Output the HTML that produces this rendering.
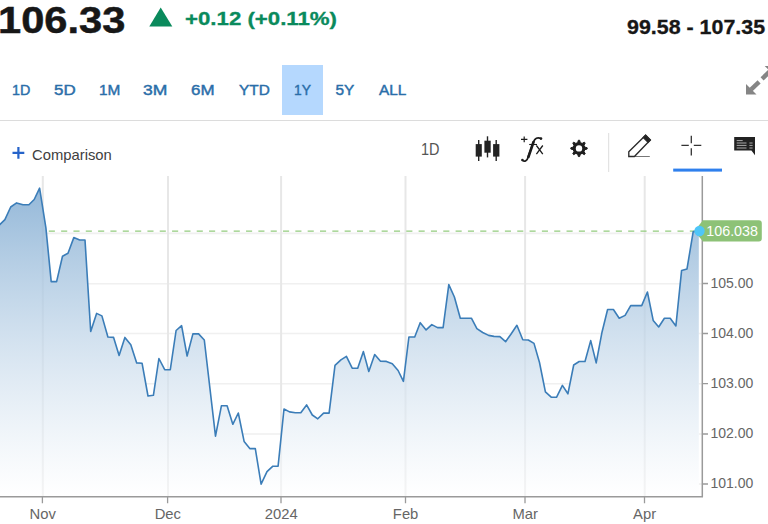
<!DOCTYPE html>
<html><head><meta charset="utf-8">
<style>
html,body{margin:0;padding:0;background:#fff;}
body{width:768px;height:524px;position:relative;overflow:hidden;font-family:"Liberation Sans",sans-serif;}
.abs{position:absolute;white-space:nowrap;line-height:1;}
#price{left:-2px;top:2.3px;font-size:37px;font-weight:bold;color:#171717;-webkit-text-stroke:0.5px #171717;transform-origin:0 0;transform:scaleX(1.125);}
#chg{left:184.5px;top:10.3px;font-size:18px;font-weight:bold;color:#0a8a5c;-webkit-text-stroke:0.3px #0a8a5c;transform-origin:0 0;transform:scaleX(1.235);}
#range{left:626.5px;top:18.3px;font-size:19.5px;font-weight:bold;color:#171717;-webkit-text-stroke:0.3px #171717;transform-origin:0 0;transform:scaleX(1.098);}
.tab{top:82.3px;font-size:15.4px;transform-origin:0 0;color:#2a6ea9;font-weight:normal;-webkit-text-stroke:0.45px #2a6ea9;}
#sel{left:282px;top:65px;width:40.5px;height:49.5px;background:#b5d8fe;}
#hr{left:0;top:120px;width:768px;height:1px;background:#dcdcdc;}
#cmp{left:32px;top:147.8px;font-size:14.8px;color:#404040;}
#t1d{left:421px;top:142.3px;font-size:15.6px;color:#555;transform-origin:0 0;transform:scaleX(0.93);}
.ax{font-size:14px;color:#666;}
.mon{top:506.6px;font-size:14.8px;color:#666;}
</style></head><body>
<div class="abs" id="price">106.33</div>
<svg class="abs" style="left:149px;top:7px" width="24" height="20" viewBox="0 0 24 20"><polygon points="11.7,0.5 23.3,19.5 0.3,19.5" fill="#0a8a5c"/></svg>
<div class="abs" id="chg">+0.12 (+0.11%)</div>
<div class="abs" id="range">99.58 - 107.35</div>

<div class="abs" id="sel"></div>
<div class="abs tab" style="left:12.3px;transform:scaleX(0.93)">1D</div>
<div class="abs tab" style="left:54.3px;transform:scaleX(1.1)">5D</div>
<div class="abs tab" style="left:99px">1M</div>
<div class="abs tab" style="left:143.3px;transform:scaleX(1.14)">3M</div>
<div class="abs tab" style="left:190.8px;transform:scaleX(1.1)">6M</div>
<div class="abs tab" style="left:239px">YTD</div>
<div class="abs tab" style="left:293.5px;transform:scaleX(0.9)">1Y</div>
<div class="abs tab" style="left:335.5px">5Y</div>
<div class="abs tab" style="left:379px">ALL</div>
<div class="abs" id="hr"></div>

<!-- expand icon -->
<svg class="abs" style="left:740px;top:60px" width="28" height="40" viewBox="740 60 28 40">
 <g fill="#858585" stroke="#858585" stroke-width="4.4">
  <polygon points="746,84.1 746,94.6 756.5,94.6" stroke="none"/>
  <path d="M751 89.6L759.1 81.8"/>
  <polygon points="775.2,76.5 775.2,66 764.7,66" stroke="none"/>
  <path d="M770.2 71L762.1 78.8"/>
 </g>
</svg>

<!-- toolbar -->
<svg class="abs" style="left:0;top:125px" width="768" height="52" viewBox="0 125 768 52">
 <!-- plus -->
 <path d="M18.4 147v11.8M12.5 152.9h11.8" stroke="#2563c9" stroke-width="2.2" fill="none"/>
 <!-- candles -->
 <g fill="#232323" stroke="#232323" stroke-width="1.4">
  <path d="M478.7 139.9V161" />
  <rect x="475.7" y="144.1" width="6.1" height="12.5" stroke="none"/>
  <path d="M487.5 136.3V157.4" />
  <rect x="484.4" y="140.7" width="6.3" height="12" stroke="none"/>
  <path d="M496.2 139.9V161" />
  <rect x="493.1" y="144.1" width="6.3" height="12.5" stroke="none"/>
 </g>
 <!-- fx -->
 <g fill="none" stroke="#1c1c1c" stroke-linecap="round">
  <path d="M524.2 136.5v5.8M521 139.4h6.4" stroke-width="1.2" stroke-linecap="butt"/>
  <path d="M522.6 160.4C524.5 162.2 527.3 161 528.3 156.5L533.6 141.8C534.7 138.6 537.6 136.6 540.8 138.6" stroke-width="1.7"/>
  <path d="M528.4 157L533.5 142" stroke-width="2.6"/>
  <circle cx="522.4" cy="160" r="1.3" fill="#1c1c1c" stroke="none"/>
  <circle cx="541" cy="138.6" r="1.3" fill="#1c1c1c" stroke="none"/>
  <path d="M529.2 144.5H537" stroke-width="1.1" stroke-linecap="butt"/>
  <path d="M536.4 145.5L542.8 154.2M542.8 145.5L536.4 154.2" stroke-width="1.3" stroke-linecap="butt"/>
 </g>
 <!-- gear -->
 <g transform="translate(579 148.4)">
  <path d="M-1.33 -5.75L-0.64 -8.17L0.64 -8.17L1.33 -5.75L3.13 -5.00L5.33 -6.24L6.24 -5.33L5.00 -3.13L5.75 -1.33L8.17 -0.64L8.17 0.64L5.75 1.33L5.00 3.13L6.24 5.33L5.33 6.24L3.13 5.00L1.33 5.75L0.64 8.17L-0.64 8.17L-1.33 5.75L-3.13 5.00L-5.33 6.24L-6.24 5.33L-5.00 3.13L-5.75 1.33L-8.17 0.64L-8.17 -0.64L-5.75 -1.33L-5.00 -3.13L-6.24 -5.33L-5.33 -6.24L-3.13 -5.00Z" fill="#1e1e1e" stroke="#1e1e1e" stroke-width="1" stroke-linejoin="round"/>
  <circle r="6" fill="#1e1e1e"/>
  <circle r="3.2" fill="#fff"/>
 </g>
 <!-- sep -->
 <path d="M608.7 133v39" stroke="#ddd" stroke-width="1"/>
 <!-- pencil -->
 <g fill="none" stroke="#2a2a2a" stroke-width="1.35" stroke-linejoin="miter">
  <path d="M634 156.5h15.8" stroke="#777" stroke-width="1"/>
  <path d="M628.8 151.8L645.6 135.3L650.3 140L634.4 156.5H628.8z"/>
  <path d="M643.3 137.5L645.6 135.3L650.3 140L648.1 142.3z" fill="#222"/>
 </g>
 <!-- crosshair -->
 <path d="M691.3 135.8v7.4M691.3 148.2v7.4M681.4 145.4h7.4M693.8 145.4h7.5" stroke="#333" stroke-width="1.3" fill="none"/>
 <rect x="673.2" y="168.6" width="48.8" height="3" fill="#2f80ed"/>
 <!-- comment -->
 <g>
  <path d="M734.2 137h20.8v18.2l-3.6-4.6h-17.2z" fill="#222"/>
  <path d="M736.7 140.6h6M736.7 143h9.8M736.7 145.4h9.8M736.7 148h9.8M749.4 143h3.2M749.4 145.4h3.2M749.4 148h3.2" stroke="#aaa" stroke-width="1"/>
 </g>
</svg>
<div class="abs" id="cmp">Comparison</div>
<div class="abs" id="t1d">1D</div>

<!-- chart -->
<svg class="abs" style="left:0;top:170px" width="768" height="354" viewBox="0 170 768 354">
 <defs>
  <linearGradient id="g" x1="0" y1="177" x2="0" y2="496" gradientUnits="userSpaceOnUse">
   <stop offset="0" stop-color="rgb(130,172,210)" stop-opacity="0.9"/>
   <stop offset="1" stop-color="#ffffff" stop-opacity="0.55"/>
  </linearGradient>
  <clipPath id="out"><path clip-rule="evenodd" d="M-5 170H768V524H-5Z M-2.0,225.5L0.0,224.5L4.9,219.6L10.7,207.0L16.6,202.9L23.0,204.8L28.9,204.8L34.2,199.5L39.6,188.2L45.9,227.9L51.2,281.6L56.6,281.6L62.5,256.2L68.0,253.2L73.8,237.6L79.7,240.0L85.0,240.0L90.7,331.5L96.6,313.4L101.9,315.9L107.9,337.0L113.6,337.4L119.1,355.4L124.9,337.4L130.8,344.8L136.7,362.9L142.1,363.3L148.0,396.0L153.4,395.3L158.9,358.5L164.7,369.7L170.3,369.7L176.1,330.5L181.6,325.7L187.1,356.0L192.9,333.9L198.6,333.9L204.3,340.0L215.5,436.1L221.4,405.8L227.1,405.8L232.8,424.3L238.3,413.0L244.1,441.4L249.8,448.6L255.3,448.6L261.1,484.2L267.0,471.7L272.9,466.2L278.1,466.2L284.0,409.0L289.5,411.9L295.3,412.7L300.8,412.7L306.6,404.9L312.3,415.0L317.8,418.8L323.6,413.1L329.1,413.1L335.0,365.3L340.9,359.8L346.4,356.3L352.2,368.2L357.7,368.2L363.4,351.6L368.8,371.5L374.7,354.5L380.5,361.2L386.4,361.4L392.3,363.7L398.1,370.5L403.4,381.3L408.9,337.0L414.7,337.0L420.2,322.7L426.1,329.9L431.8,324.6L437.5,327.6L443.1,327.6L448.8,284.6L454.4,297.0L460.3,318.2L465.7,318.2L471.4,318.2L476.9,328.6L482.7,332.5L488.6,335.4L494.0,336.4L499.9,336.6L505.6,341.7L511.4,333.5L516.9,325.3L522.8,339.8L528.3,340.0L534.0,343.4L539.5,362.5L545.4,391.8L551.2,397.1L556.5,397.3L562.4,385.4L567.9,393.8L573.7,365.0L579.2,361.5L585.0,361.5L590.7,340.6L596.2,362.9L602.0,332.2L607.6,309.5L613.4,309.5L619.2,318.2L625.1,315.4L630.7,305.6L636.6,305.6L641.7,305.6L647.4,292.0L653.2,320.4L658.7,327.0L664.4,318.2L670.2,318.2L675.9,325.9L681.6,270.4L687.0,268.9L693.2,231.6L698.8,231.2L698.8,496L-2,496Z"/></clipPath>
 </defs>
 <g fill="none">
  <path clip-path="url(#out)" stroke="#f0f0f0" stroke-width="1.6" d="M0 233.4H702M0 283.8H702M0 333.5H702M0 383.7H702M0 434H702M0 484H702"/>
  <path stroke="#e7e7e7" stroke-width="2" d="M42.8 176V496M168 176V496M281.1 176V496M405.5 176V496M525.1 176V496M644.7 176V496"/>
 </g>
 <polygon points="-2.0,225.5 0.0,224.5 4.9,219.6 10.7,207.0 16.6,202.9 23.0,204.8 28.9,204.8 34.2,199.5 39.6,188.2 45.9,227.9 51.2,281.6 56.6,281.6 62.5,256.2 68.0,253.2 73.8,237.6 79.7,240.0 85.0,240.0 90.7,331.5 96.6,313.4 101.9,315.9 107.9,337.0 113.6,337.4 119.1,355.4 124.9,337.4 130.8,344.8 136.7,362.9 142.1,363.3 148.0,396.0 153.4,395.3 158.9,358.5 164.7,369.7 170.3,369.7 176.1,330.5 181.6,325.7 187.1,356.0 192.9,333.9 198.6,333.9 204.3,340.0 215.5,436.1 221.4,405.8 227.1,405.8 232.8,424.3 238.3,413.0 244.1,441.4 249.8,448.6 255.3,448.6 261.1,484.2 267.0,471.7 272.9,466.2 278.1,466.2 284.0,409.0 289.5,411.9 295.3,412.7 300.8,412.7 306.6,404.9 312.3,415.0 317.8,418.8 323.6,413.1 329.1,413.1 335.0,365.3 340.9,359.8 346.4,356.3 352.2,368.2 357.7,368.2 363.4,351.6 368.8,371.5 374.7,354.5 380.5,361.2 386.4,361.4 392.3,363.7 398.1,370.5 403.4,381.3 408.9,337.0 414.7,337.0 420.2,322.7 426.1,329.9 431.8,324.6 437.5,327.6 443.1,327.6 448.8,284.6 454.4,297.0 460.3,318.2 465.7,318.2 471.4,318.2 476.9,328.6 482.7,332.5 488.6,335.4 494.0,336.4 499.9,336.6 505.6,341.7 511.4,333.5 516.9,325.3 522.8,339.8 528.3,340.0 534.0,343.4 539.5,362.5 545.4,391.8 551.2,397.1 556.5,397.3 562.4,385.4 567.9,393.8 573.7,365.0 579.2,361.5 585.0,361.5 590.7,340.6 596.2,362.9 602.0,332.2 607.6,309.5 613.4,309.5 619.2,318.2 625.1,315.4 630.7,305.6 636.6,305.6 641.7,305.6 647.4,292.0 653.2,320.4 658.7,327.0 664.4,318.2 670.2,318.2 675.9,325.9 681.6,270.4 687.0,268.9 693.2,231.6 698.8,231.2 698.8,496 -2,496" fill="url(#g)"/>
 <path d="M48.8 231.05H695" stroke="#93cb7e" stroke-width="1.15" stroke-dasharray="6.1 6.227" fill="none"/>
 <polyline points="-2.0,225.5 0.0,224.5 4.9,219.6 10.7,207.0 16.6,202.9 23.0,204.8 28.9,204.8 34.2,199.5 39.6,188.2 45.9,227.9 51.2,281.6 56.6,281.6 62.5,256.2 68.0,253.2 73.8,237.6 79.7,240.0 85.0,240.0 90.7,331.5 96.6,313.4 101.9,315.9 107.9,337.0 113.6,337.4 119.1,355.4 124.9,337.4 130.8,344.8 136.7,362.9 142.1,363.3 148.0,396.0 153.4,395.3 158.9,358.5 164.7,369.7 170.3,369.7 176.1,330.5 181.6,325.7 187.1,356.0 192.9,333.9 198.6,333.9 204.3,340.0 215.5,436.1 221.4,405.8 227.1,405.8 232.8,424.3 238.3,413.0 244.1,441.4 249.8,448.6 255.3,448.6 261.1,484.2 267.0,471.7 272.9,466.2 278.1,466.2 284.0,409.0 289.5,411.9 295.3,412.7 300.8,412.7 306.6,404.9 312.3,415.0 317.8,418.8 323.6,413.1 329.1,413.1 335.0,365.3 340.9,359.8 346.4,356.3 352.2,368.2 357.7,368.2 363.4,351.6 368.8,371.5 374.7,354.5 380.5,361.2 386.4,361.4 392.3,363.7 398.1,370.5 403.4,381.3 408.9,337.0 414.7,337.0 420.2,322.7 426.1,329.9 431.8,324.6 437.5,327.6 443.1,327.6 448.8,284.6 454.4,297.0 460.3,318.2 465.7,318.2 471.4,318.2 476.9,328.6 482.7,332.5 488.6,335.4 494.0,336.4 499.9,336.6 505.6,341.7 511.4,333.5 516.9,325.3 522.8,339.8 528.3,340.0 534.0,343.4 539.5,362.5 545.4,391.8 551.2,397.1 556.5,397.3 562.4,385.4 567.9,393.8 573.7,365.0 579.2,361.5 585.0,361.5 590.7,340.6 596.2,362.9 602.0,332.2 607.6,309.5 613.4,309.5 619.2,318.2 625.1,315.4 630.7,305.6 636.6,305.6 641.7,305.6 647.4,292.0 653.2,320.4 658.7,327.0 664.4,318.2 670.2,318.2 675.9,325.9 681.6,270.4 687.0,268.9 693.2,231.6 698.8,231.2" fill="none" stroke="#3b7db8" stroke-width="1.6" stroke-linejoin="round"/>
 <!-- axes -->
 <path d="M702.3 176V497" stroke="#9a9a9a" stroke-width="1.5"/>
 <path d="M0 496.7H703" stroke="#9a9a9a" stroke-width="1.5"/>
 <g stroke="#9a9a9a" stroke-width="1.3">
  <path d="M42.4 496v7.3M167.6 496v7.3M281 496v7.3M405.5 496v7.3M525 496v7.3M644.5 496v7.3"/>
  <path d="M702 283.5h6M702 333.5h6M702 383.7h6M702 434h6M702 484h6"/>
 </g>
 <!-- tag -->
 <path d="M694.4 231L703 220.3H758.8a3 3 0 0 1 3 3V238.6a3 3 0 0 1 -3 3H703z" fill="#8dc277"/>
 <circle cx="699.5" cy="231" r="5.2" fill="#4fc6f8"/>
</svg>
<div class="abs" style="left:706.3px;top:224.2px;font-size:14.3px;color:#fff;">106.038</div>
<div class="abs ax" style="left:710.5px;top:275.9px">105.00</div>
<div class="abs ax" style="left:710.5px;top:325.9px">104.00</div>
<div class="abs ax" style="left:710.5px;top:376px">103.00</div>
<div class="abs ax" style="left:710.5px;top:426.4px">102.00</div>
<div class="abs ax" style="left:710.5px;top:476.4px">101.00</div>
<div class="abs mon" style="left:42.7px;transform:translateX(-50%)">Nov</div>
<div class="abs mon" style="left:167.8px;transform:translateX(-50%)">Dec</div>
<div class="abs mon" style="left:281.2px;transform:translateX(-50%)">2024</div>
<div class="abs mon" style="left:405.6px;transform:translateX(-50%)">Feb</div>
<div class="abs mon" style="left:525.2px;transform:translateX(-50%)">Mar</div>
<div class="abs mon" style="left:644.6px;transform:translateX(-50%)">Apr</div>
</body></html>
